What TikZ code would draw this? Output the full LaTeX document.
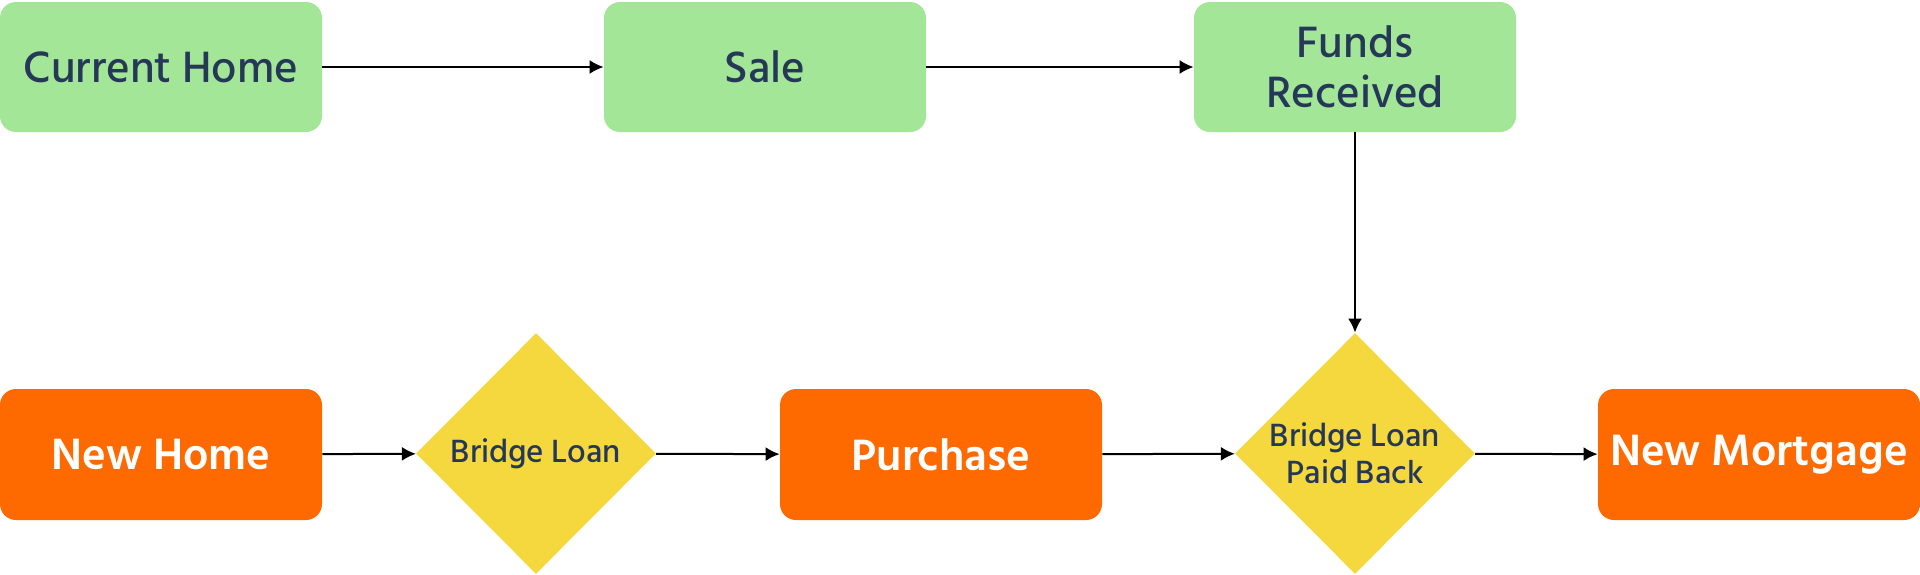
\documentclass[tikz,border=0pt]{standalone}
\usepackage{fontspec}
\setmainfont{Hind Siliguri}[UprightFont=* Medium, BoldFont=* SemiBold]
\usetikzlibrary{shapes.geometric,arrows.meta}
\definecolor{boxgreen}{HTML}{A3E697}
\definecolor{boxorange}{HTML}{FF6A00}
\definecolor{dyellow}{HTML}{F5D73E}
\definecolor{navy}{HTML}{253858}
\tikzset{
  greenbox/.style={fill=boxgreen, rounded corners=8pt, minimum width=161pt, minimum height=65pt, inner sep=0pt, text=navy, font=\fontsize{22.5}{25}\selectfont, align=center},
  orangebox/.style={fill=boxorange, rounded corners=8pt, minimum width=161pt, minimum height=65.5pt, inner sep=0pt, text=white, font=\fontsize{22.5}{25}\selectfont\bfseries, align=center},
  decision/.style={diamond, fill=dyellow, minimum width=120pt, minimum height=120.5pt, inner sep=0pt, text=navy, font=\fontsize{16.5}{18.5}\selectfont, align=center},
  flow/.style={-{Latex[length=7pt,width=7pt]}, line width=1pt, black}
}
\begin{document}
\begin{tikzpicture}[x=0.5pt,y=-0.5pt]
\useasboundingbox (0,0) rectangle (1920,574);
\node[greenbox] (cur) at (161,67) {Current Home};
\node[greenbox] (sale) at (765,67) {Sale};
\node[greenbox] (funds) at (1355,67) {Funds\\Received};
\node[orangebox] (newhome) at (161,454.5) {New Home};
\node[decision] (bridge) at (536,453.5) {Bridge Loan};
\node[orangebox] (purchase) at (941,454.5) {Purchase};
\node[decision] (paid) at (1355,453.5) {Bridge Loan\\Paid Back};
\node[orangebox] (mortgage) at (1759,454.5) {New Mortgage};
\draw[flow] (cur) -- (sale);
\draw[flow] (sale) -- (funds);
\draw[flow] (funds) -- (paid);
\draw[flow] (newhome) -- (bridge);
\draw[flow] (bridge) -- (purchase);
\draw[flow] (purchase) -- (paid);
\draw[flow] (paid) -- (mortgage);
\end{tikzpicture}
\end{document}
